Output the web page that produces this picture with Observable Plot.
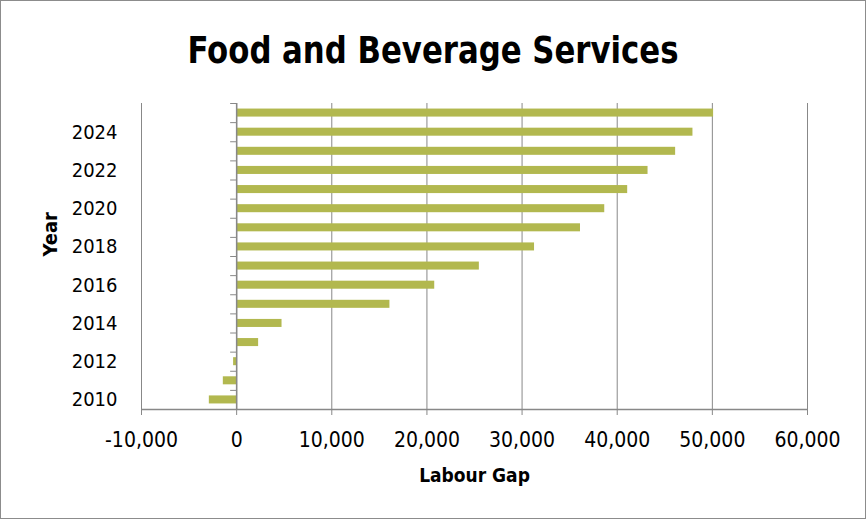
<!DOCTYPE html>
<html><head><meta charset="utf-8">
<script src="https://cdn.jsdelivr.net/npm/d3@7"></script>
<script src="https://cdn.jsdelivr.net/npm/@observablehq/plot@0.6"></script>
<style>
body{margin:0;background:#fff;}
#wrap{position:relative;width:866px;height:519px;overflow:hidden;font-family:"DejaVu Sans Condensed","Open Sans",sans-serif;}
#title{position:absolute;left:0;right:0;top:31px;text-align:center;font-weight:bold;font-size:38px;line-height:1;color:#000;transform:scaleX(0.9);transform-origin:433px 0;}
#chart{position:absolute;left:0;top:0;}
#border{position:absolute;left:0;top:0;width:866px;height:519px;box-sizing:border-box;border:1px solid #8c8c8c;pointer-events:none;}
</style></head>
<body><div id="wrap"><div id="chart"></div><div id="title">Food and Beverage Services</div><div id="border"></div></div>
<script>
const years = [2010,2011,2012,2013,2014,2015,2016,2017,2018,2019,2020,2021,2022,2023,2024,2025];
const labourGap = [-2870,-1400,-320,2310,4770,16110,20820,25510,31310,36140,38690,41100,43240,46140,47960,50130];
const xTicks = [-10000,0,10000,20000,30000,40000,50000,60000];
const yearLabels = [2010,2012,2014,2016,2018,2020,2022,2024];
const xTitle = "Labour Gap";
const yTitle = "Year";

const data = years.map((year, i) => ({year, gap: labourGap[i]}));
const bounds = years.map(y => y + 0.5);
const W = 866, H = 519, mL = 141, mR = 59, mT = 103, mB = 110;
const xDomain = [-10000, 60000];
const yDomain = [years[0] - 0.5, years[years.length - 1] + 0.5];
const xs = Plot.scale({x: {domain: xDomain, range: [mL, W - mR]}});
const zeroShift = xs.apply(0) - mL;
const fmt = d => d3.format(",")(d).replace("\u2212", "-");
const font = '"DejaVu Sans Condensed","Open Sans",sans-serif';
const grey = "#888888";

const plot = Plot.plot({
  width: W, height: H,
  marginLeft: mL, marginRight: mR, marginTop: mT, marginBottom: mB,
  style: {fontFamily: font, color: "#000", background: "transparent"},
  x: {domain: xDomain},
  y: {domain: yDomain},
  marks: [
    Plot.gridX(xTicks, {stroke: grey, strokeOpacity: 1, strokeWidth: 1}),
    Plot.ruleY([yDomain[0]], {stroke: grey, strokeWidth: 1.5}),
    Plot.axisX({ticks: xTicks, tickFormat: fmt, tickSize: 6, tickPadding: 17, fontSize: 21, stroke: grey, label: null}),
    Plot.rectX(data, {x: "gap", y1: d => d.year - 0.21, y2: d => d.year + 0.21, fill: "#b2b84f"}),
    Plot.ruleX([0], {stroke: grey, strokeWidth: 1.5}),
    Plot.axisY({ticks: bounds, tickSize: 6, tickFormat: () => "", dx: zeroShift, stroke: grey, label: null}),
    Plot.axisY({ticks: yearLabels, tickSize: 0, tickPadding: 24, tickFormat: d => String(d), fontSize: 20, label: null}),
    Plot.text([xTitle], {text: d => d, frameAnchor: "bottom", dy: 72, fontWeight: "bold", fontSize: 19}),
    Plot.text([yTitle], {text: d => d, frameAnchor: "left", dx: -91, rotate: -90, fontWeight: "bold", fontSize: 20})
  ]
});
document.getElementById("chart").appendChild(plot);
</script>
</body></html>
